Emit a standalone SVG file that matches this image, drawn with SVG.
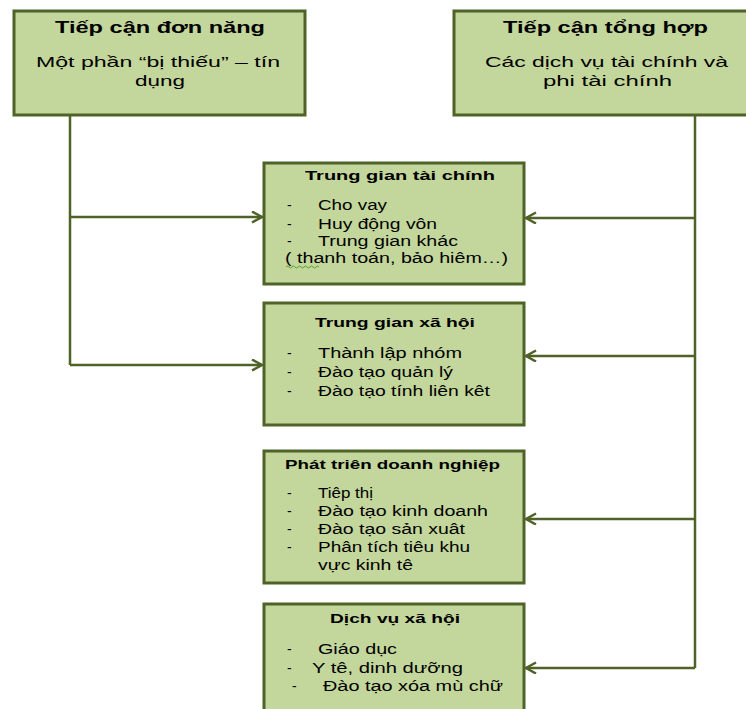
<svg xmlns="http://www.w3.org/2000/svg" width="746" height="709" viewBox="0 0 746 709">
  <style>
    .box { fill: #c3d69b; stroke: #4f6228; stroke-width: 3; }
    .wire { fill: none; stroke: #4f6228; stroke-width: 2.5; }
    text { font-family: "Liberation Sans", Arial, sans-serif; fill: #000; }
    .head { font-size: 16px; font-weight: bold; text-anchor: middle; }
    .sub { font-size: 15px; text-anchor: middle; }
    .title { font-size: 13.5px; font-weight: bold; text-anchor: middle; }
    .item { font-size: 14px; }
  </style>
  <defs>
    <marker id="chev" markerUnits="userSpaceOnUse" markerWidth="14" markerHeight="14" refX="11" refY="6" orient="auto">
      <path d="M1,0.5 L11,6 L1,11.5" fill="none" stroke="#4f6228" stroke-width="2.5"/>
    </marker>
  </defs>

  <!-- connectors -->
  <g id="connectors">
    <path class="wire" d="M70,115 V365"/>
    <path class="wire" d="M70,217 H262" marker-end="url(#chev)"/>
    <path class="wire" d="M70,365 H262" marker-end="url(#chev)"/>
    <path class="wire" d="M695,115 V668"/>
    <path class="wire" d="M695,218 H526" marker-end="url(#chev)"/>
    <path class="wire" d="M695,356 H526" marker-end="url(#chev)"/>
    <path class="wire" d="M695,519 H526" marker-end="url(#chev)"/>
    <path class="wire" d="M695,668 H526" marker-end="url(#chev)"/>
  </g>

  <g id="don-nang">
    <rect class="box" x="14" y="11" width="291" height="104"/>
    <text class="head" x="160" y="33" textLength="210" lengthAdjust="spacingAndGlyphs">Tiếp cận đơn năng</text>
    <text class="sub" x="158" y="67" textLength="244" lengthAdjust="spacingAndGlyphs">Một phần “bị thiếu” – tín</text>
    <text class="sub" x="160" y="86" textLength="50" lengthAdjust="spacingAndGlyphs">dụng</text>
  </g>

  <g id="tong-hop">
    <rect class="box" x="454" y="11" width="304" height="104"/>
    <text class="head" x="605.5" y="33" textLength="205" lengthAdjust="spacingAndGlyphs">Tiếp cận tổng hợp</text>
    <text class="sub" x="606.5" y="67" textLength="243" lengthAdjust="spacingAndGlyphs">Các dịch vụ tài chính và</text>
    <text class="sub" x="607.5" y="86" textLength="129" lengthAdjust="spacingAndGlyphs">phi tài chính</text>
  </g>

  <g id="trung-gian-tai-chinh">
    <rect class="box" x="264" y="163" width="260" height="121"/>
    <text class="title" x="400" y="180" textLength="190" lengthAdjust="spacingAndGlyphs">Trung gian tài chính</text>
    <text class="item" x="287" y="210">-</text>
    <text class="item" x="318" y="210" textLength="69" lengthAdjust="spacingAndGlyphs">Cho vay</text>
    <text class="item" x="287" y="229">-</text>
    <text class="item" x="318" y="229" textLength="119" lengthAdjust="spacingAndGlyphs">Huy động vôn</text>
    <text class="item" x="287" y="246">-</text>
    <text class="item" x="318" y="246" textLength="140" lengthAdjust="spacingAndGlyphs">Trung gian khác</text>
    <text class="item" x="285" y="263" textLength="223" lengthAdjust="spacingAndGlyphs">( thanh toán, bảo hiêm…)</text>
    <path d="M286,267 q1.5,-2 3,0 t3,0 t3,0 t3,0 t3,0 t3,0 t3,0 t3,0 t3,0 t3,0 t3,0" fill="none" stroke="#5aa02c" stroke-width="1"/>
  </g>

  <g id="trung-gian-xa-hoi">
    <rect class="box" x="264" y="303" width="260" height="122"/>
    <text class="title" x="395" y="327" textLength="160" lengthAdjust="spacingAndGlyphs">Trung gian xã hội</text>
    <text class="item" x="287" y="358">-</text>
    <text class="item" x="318" y="358" textLength="144" lengthAdjust="spacingAndGlyphs">Thành lập nhóm</text>
    <text class="item" x="287" y="377">-</text>
    <text class="item" x="318" y="377" textLength="135" lengthAdjust="spacingAndGlyphs">Đào tạo quản lý</text>
    <text class="item" x="287" y="396">-</text>
    <text class="item" x="318" y="396" textLength="172" lengthAdjust="spacingAndGlyphs">Đào tạo tính liên kêt</text>
  </g>

  <g id="phat-trien-doanh-nghiep">
    <rect class="box" x="264" y="451" width="260" height="132"/>
    <text class="title" x="392.5" y="469" textLength="215" lengthAdjust="spacingAndGlyphs">Phát triên doanh nghiệp</text>
    <text class="item" x="287" y="498">-</text>
    <text class="item" x="318" y="498" textLength="55" lengthAdjust="spacingAndGlyphs">Tiêp thị</text>
    <text class="item" x="287" y="516">-</text>
    <text class="item" x="318" y="516" textLength="170" lengthAdjust="spacingAndGlyphs">Đào tạo kinh doanh</text>
    <text class="item" x="287" y="534">-</text>
    <text class="item" x="318" y="534" textLength="147" lengthAdjust="spacingAndGlyphs">Đào tạo sản xuât</text>
    <text class="item" x="287" y="552">-</text>
    <text class="item" x="318" y="552" textLength="152" lengthAdjust="spacingAndGlyphs">Phân tích tiêu khu</text>
    <text class="item" x="318" y="570" textLength="95" lengthAdjust="spacingAndGlyphs">vực kinh tê</text>
  </g>

  <g id="dich-vu-xa-hoi">
    <rect class="box" x="264" y="604" width="260" height="120"/>
    <text class="title" x="395" y="623" textLength="130" lengthAdjust="spacingAndGlyphs">Dịch vụ xã hội</text>
    <text class="item" x="287" y="654">-</text>
    <text class="item" x="318" y="654" textLength="79" lengthAdjust="spacingAndGlyphs">Giáo dục</text>
    <text class="item" x="287" y="673">-</text>
    <text class="item" x="312" y="673" textLength="151" lengthAdjust="spacingAndGlyphs">Y tê, dinh dưỡng</text>
    <text class="item" x="292" y="691">-</text>
    <text class="item" x="323" y="691" textLength="180" lengthAdjust="spacingAndGlyphs">Đào tạo xóa mù chữ</text>
  </g>
</svg>
